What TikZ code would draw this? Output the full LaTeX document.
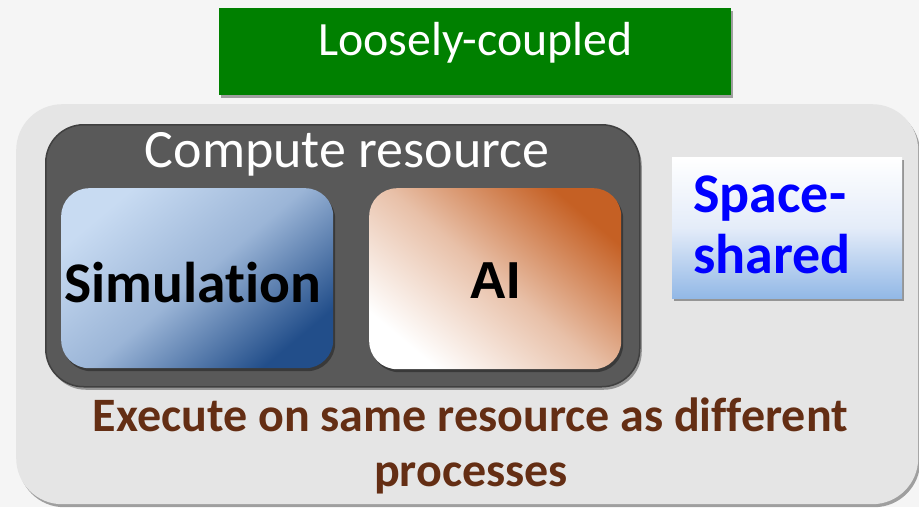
\documentclass[tikz,border=0pt]{standalone}
\usepackage{fontspec}
\setmainfont{Carlito}[Ligatures=NoCommon]
\newfontfamily\arialfont{Liberation Sans}
\usetikzlibrary{shadows}

\definecolor{pagebg}{RGB}{245,245,245}
\definecolor{panelgray}{RGB}{229,229,229}
\definecolor{darkpanel}{RGB}{89,89,89}
\definecolor{darkedge}{RGB}{64,64,64}
\definecolor{titlegreen}{RGB}{0,128,0}
\definecolor{simlight}{RGB}{200,219,242}
\definecolor{simmid}{RGB}{155,181,215}
\definecolor{simdark}{RGB}{34,78,138}
\definecolor{aiorange}{RGB}{197,96,36}
\definecolor{aimid}{RGB}{232,192,168}
\definecolor{sharedblue}{RGB}{146,184,230}
\definecolor{sharedmid}{RGB}{228,236,249}
\definecolor{notebrown}{RGB}{100,46,20}

\tikzset{
  softshadow/.style={drop shadow={opacity=0.35, shadow xshift=2pt, shadow yshift=-3pt, fill=black}},
  boxnode/.style={inner sep=0pt, anchor=north west},
  labeltext/.style={inner sep=0pt, anchor=base},
}

\begin{document}
\begin{tikzpicture}[x=1pt,y=-1pt]
  % page background and fixed extent
  \fill[pagebg] (0,0) rectangle (919,507);
  \useasboundingbox (0,0) rectangle (919,507);

  % title bar
  \node[boxnode, fill=titlegreen, softshadow, minimum width=512pt, minimum height=87pt] (title) at (219,8) {};
  \node[labeltext, text=white, font=\fontsize{47.8}{56}\selectfont] (titletext) at (475.5,55) {Loosely-coupled};

  % outer light panel
  \node[boxnode, fill=panelgray, rounded corners=46pt, softshadow, minimum width=902pt, minimum height=400pt] (panel) at (16,104) {};

  % compute resource container
  \node[boxnode, fill=darkpanel, draw=darkedge, line width=1.5pt, rounded corners=38pt, softshadow,
        minimum width=594pt, minimum height=262pt] (compute) at (45,124) {};
  \node[labeltext, text=white, font=\fontsize{54}{62}\selectfont] (computetext) at (347,167) {Compute resource};

  % simulation block
  \node[boxnode, rounded corners=28pt, softshadow, top color=simlight, bottom color=simdark, middle color=simmid, shading angle=40,
        minimum width=272pt, minimum height=180pt] (sim) at (61,188) {};
  \node[labeltext, font=\bfseries\fontsize{57.5}{66}\selectfont] (simtext) at (193,302) {Simulation};

  % AI block
  \node[boxnode, rounded corners=28pt, softshadow, top color=aiorange, bottom color=white, middle color=aimid, shading angle=-40,
        minimum width=252pt, minimum height=181pt] (ai) at (369,188) {};
  \node[labeltext, font=\arialfont\bfseries\fontsize{52}{60}\selectfont] (aitext) at (495,298) {AI};

  % space-shared tag
  \node[boxnode, softshadow, top color=white, bottom color=sharedblue, middle color=sharedmid,
        minimum width=230pt, minimum height=141pt] (shared) at (672,157) {};
  \node[inner sep=0pt, anchor=base west, text=blue, font=\bfseries\fontsize{56}{62}\selectfont] (sharedtop) at (693,212) {Space-};
  \node[inner sep=0pt, anchor=base west, text=blue, font=\bfseries\fontsize{56}{62}\selectfont] (sharedbot) at (693,273) {shared};

  % caption
  \node[labeltext, text=notebrown, font=\bfseries\fontsize{48}{56}\selectfont] (noteA) at (470.5,431) {Execute on same resource as different};
  \node[labeltext, text=notebrown, font=\bfseries\fontsize{48}{56}\selectfont] (noteB) at (471,486) {processes};
\end{tikzpicture}
\end{document}
